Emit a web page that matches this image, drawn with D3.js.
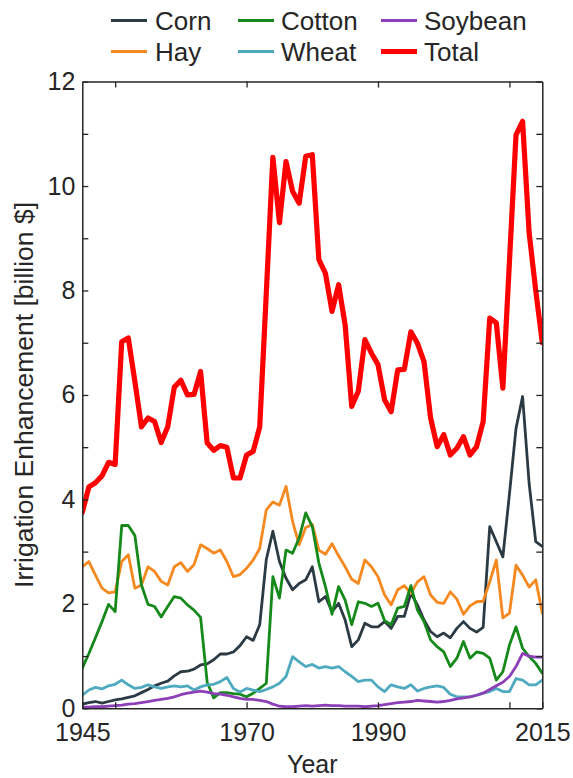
<!DOCTYPE html>
<html>
<head>
<meta charset="utf-8">
<script src="https://cdn.jsdelivr.net/npm/d3@7"></script>
<style>
  html, body { margin: 0; padding: 0; background: #ffffff; }
  svg { display: block; font-family: "Liberation Sans", Arial, sans-serif; }
</style>
</head>
<body>
<svg id="chart" width="573" height="778"></svg>
<script>
// Annual irrigation enhancement by crop, billion $
const years = d3.range(1945, 2016);

const corn = [
  0.08, 0.11, 0.13, 0.10, 0.13, 0.16,
  0.18, 0.21, 0.24, 0.30, 0.36,
  0.43, 0.48, 0.52, 0.62, 0.70,
  0.71, 0.75, 0.83, 0.85, 0.93,
  1.04, 1.04, 1.08, 1.20, 1.37,
  1.30, 1.60, 2.85, 3.39, 2.81,
  2.49, 2.27, 2.39, 2.46, 2.71,
  2.04, 2.14, 1.85, 2.01, 1.69,
  1.18, 1.31, 1.63, 1.56, 1.56,
  1.66, 1.53, 1.76, 1.76, 2.20,
  1.98, 1.69, 1.47, 1.37, 1.44,
  1.35, 1.53, 1.66, 1.53, 1.46,
  1.55, 3.48, 3.19, 2.90, 4.10,
  5.36, 5.97, 4.30, 3.19, 3.10
];

const hay = [
  2.71, 2.81, 2.55, 2.30, 2.21, 2.23,
  2.81, 2.94, 2.30, 2.36, 2.71,
  2.62, 2.43, 2.36, 2.71, 2.79,
  2.62, 2.75, 3.13, 3.06, 2.97,
  3.03, 2.81, 2.52, 2.56, 2.68,
  2.84, 3.06, 3.80, 3.95, 3.89,
  4.25, 3.58, 3.13, 3.46, 3.52,
  3.03, 2.95, 3.15, 2.92, 2.71,
  2.47, 2.39, 2.84, 2.71, 2.52,
  2.17, 1.98, 2.27, 2.35, 2.20,
  2.42, 2.52, 2.17, 2.03, 2.01,
  2.23, 2.09, 1.80, 1.96, 2.04,
  2.05, 2.42, 2.84, 1.73, 1.82,
  2.74, 2.55, 2.32, 2.46, 1.82
];

const cotton = [
  0.77, 1.05, 1.35, 1.66, 1.99, 1.85,
  3.50, 3.50, 3.31, 2.36, 1.99,
  1.95, 1.75, 1.95, 2.14, 2.11,
  1.98, 1.88, 1.74, 0.50, 0.20,
  0.30, 0.30, 0.28, 0.27, 0.22,
  0.29, 0.38, 0.48, 2.52, 2.11,
  3.03, 2.97, 3.26, 3.74, 3.48,
  2.78, 2.33, 1.80, 2.33, 2.07,
  1.60, 2.04, 2.01, 1.95, 2.01,
  1.68, 1.60, 1.92, 1.95, 2.35,
  1.88, 1.66, 1.31, 1.18, 1.08,
  0.80, 0.96, 1.28, 0.96, 1.08,
  1.05, 0.96, 0.54, 0.70, 1.21,
  1.56, 1.15, 0.99, 0.86, 0.67
];

const wheat = [
  0.25, 0.35, 0.40, 0.37, 0.43, 0.46,
  0.54, 0.45, 0.38, 0.40, 0.45,
  0.41, 0.38, 0.41, 0.43, 0.41,
  0.43, 0.35, 0.41, 0.45, 0.46,
  0.51, 0.59, 0.38, 0.31, 0.38,
  0.35, 0.32, 0.36, 0.41, 0.48,
  0.61, 0.99, 0.89, 0.80, 0.84,
  0.77, 0.80, 0.77, 0.80, 0.70,
  0.61, 0.51, 0.54, 0.54, 0.41,
  0.32, 0.45, 0.41, 0.38, 0.45,
  0.33, 0.38, 0.41, 0.43, 0.40,
  0.27, 0.22, 0.22, 0.22, 0.25,
  0.29, 0.32, 0.38, 0.32, 0.32,
  0.57, 0.54, 0.45, 0.45, 0.54
];

const soybean = [
  0.02, 0.02, 0.03, 0.03, 0.04, 0.05,
  0.06, 0.08, 0.09, 0.11, 0.13,
  0.15, 0.17, 0.19, 0.22, 0.26,
  0.29, 0.31, 0.33, 0.31, 0.28,
  0.27, 0.25, 0.22, 0.19, 0.17,
  0.17, 0.15, 0.13, 0.08, 0.04,
  0.03, 0.03, 0.04, 0.05, 0.04,
  0.05, 0.06, 0.05, 0.05, 0.04,
  0.04, 0.04, 0.03, 0.04, 0.05,
  0.07, 0.09, 0.11, 0.12, 0.13,
  0.15, 0.14, 0.13, 0.12, 0.13,
  0.15, 0.18, 0.20, 0.22, 0.25,
  0.29, 0.36, 0.43, 0.50, 0.61,
  0.80, 1.05, 1.00, 0.98, 0.98
];

const total = [
  3.75, 4.24, 4.32, 4.45, 4.71, 4.67,
  7.02, 7.09, 6.26, 5.39, 5.56,
  5.49, 5.09, 5.39, 6.15, 6.28,
  6.00, 6.01, 6.45, 5.08, 4.94,
  5.03, 5.00, 4.41, 4.41, 4.85,
  4.92, 5.39, 7.95, 10.55, 9.30,
  10.47, 9.90, 9.67, 10.57, 10.60,
  8.59, 8.33, 7.60, 8.11, 7.34,
  5.78, 6.07, 7.06, 6.80, 6.58,
  5.91, 5.68, 6.48, 6.49, 7.21,
  6.99, 6.64, 5.56, 5.01, 5.24,
  4.85, 4.98, 5.20, 4.85, 5.01,
  5.49, 7.47, 7.38, 6.13, 8.55,
  10.98, 11.24, 9.10, 8.00, 7.00
];

const xTickMarks = [1950, 1970, 1990, 2010];
const xTickLabels = [1945, 1970, 1990, 2015];
const yTicks = d3.range(0, 13);

const series = [
  { name: "Corn",    values: corn,    color: "#2c3a44", width: 2.8 },
  { name: "Hay",     values: hay,     color: "#f5891f", width: 2.8 },
  { name: "Cotton",  values: cotton,  color: "#15891a", width: 2.8 },
  { name: "Wheat",   values: wheat,   color: "#4eaabf", width: 2.8 },
  { name: "Soybean", values: soybean, color: "#8d3fb8", width: 2.8 },
  { name: "Total",   values: total,   color: "#ff0000", width: 5.2 }
];

const svg = d3.select("#chart");
const textColor = "#262626";

const x = d3.scaleLinear().domain([1945, 2015]).range([82.3, 542.3]);
const y = d3.scaleLinear().domain([0, 12]).range([708.3, 81.6]);

// Data lines, clipped to the plot box
svg.append("defs").append("clipPath").attr("id", "plotClip")
  .append("rect")
  .attr("x", x(1945)).attr("y", y(12))
  .attr("width", x(2015) - x(1945)).attr("height", y(0) - y(12));

const line = d3.line()
  .x((d, i) => x(years[i]))
  .y(d => y(d));

const plot = svg.append("g").attr("clip-path", "url(#plotClip)");
series.forEach(s => {
  plot.append("path")
    .datum(s.values)
    .attr("fill", "none")
    .attr("stroke", s.color)
    .attr("stroke-width", s.width)
    .attr("stroke-linejoin", "round")
    .attr("stroke-linecap", "round")
    .attr("d", line);
});

// Axes with inward ticks on all four sides
const fontSize = 25;

const bottomAxis = d3.axisBottom(x)
  .tickValues(xTickMarks.concat(xTickLabels.filter(v => !xTickMarks.includes(v))).sort())
  .tickSizeInner(-6).tickSizeOuter(0).tickPadding(15)
  .tickFormat(d => xTickLabels.includes(d) ? String(d) : "");
const gB = svg.append("g").attr("transform", `translate(0,${y(0)})`).call(bottomAxis);

const topAxis = d3.axisTop(x).tickValues(xTickMarks)
  .tickSizeInner(-6).tickSizeOuter(0).tickFormat("");
const gT = svg.append("g").attr("transform", `translate(0,${y(12)})`).call(topAxis);

const leftAxis = d3.axisLeft(y).tickValues(yTicks)
  .tickSizeInner(-6).tickSizeOuter(0).tickPadding(7)
  .tickFormat(d => d % 2 === 0 ? String(d) : "");
const gL = svg.append("g").attr("transform", `translate(${x(1945)},0)`).call(leftAxis);

const rightAxis = d3.axisRight(y).tickValues(yTicks)
  .tickSizeInner(-6).tickSizeOuter(0).tickFormat("");
const gR = svg.append("g").attr("transform", `translate(${x(2015)},0)`).call(rightAxis);

[gB, gT, gL, gR].forEach(g => {
  g.select(".domain").attr("stroke", textColor).attr("stroke-width", 1.5);
  g.selectAll(".tick line").attr("stroke", textColor).attr("stroke-width", 1.3);
  g.selectAll(".tick text")
    .attr("fill", textColor)
    .style("font-size", fontSize + "px")
    .style("font-family", '"Liberation Sans", Arial, sans-serif');
});

// Axis titles
svg.append("text")
  .attr("x", (x(1945) + x(2015)) / 2)
  .attr("y", 773)
  .attr("text-anchor", "middle")
  .attr("fill", textColor)
  .style("font-size", "25px")
  .text("Year");

svg.append("text")
  .attr("transform", `translate(33,${(y(0) + y(12)) / 2}) rotate(-90)`)
  .attr("text-anchor", "middle")
  .attr("fill", textColor)
  .style("font-size", "26.5px")
  .text("Irrigation Enhancement [billion $]");

// Legend: three columns, two rows (column-major order)
const legendCols = [{ line: 111, text: 155 }, { line: 238, text: 281 }, { line: 381, text: 424 }];
const legendRows = [20.5, 51.5];
const legend = svg.append("g");
series.forEach((s, i) => {
  const col = legendCols[Math.floor(i / 2)], ly = legendRows[i % 2];
  legend.append("line")
    .attr("x1", col.line).attr("x2", col.line + 36)
    .attr("y1", ly).attr("y2", ly)
    .attr("stroke", s.color)
    .attr("stroke-width", s.name === "Total" ? 5 : 3);
  legend.append("text")
    .attr("x", col.text)
    .attr("y", ly + 9)
    .attr("fill", textColor)
    .style("font-size", "26px")
    .text(s.name);
});
</script>
</body>
</html>
